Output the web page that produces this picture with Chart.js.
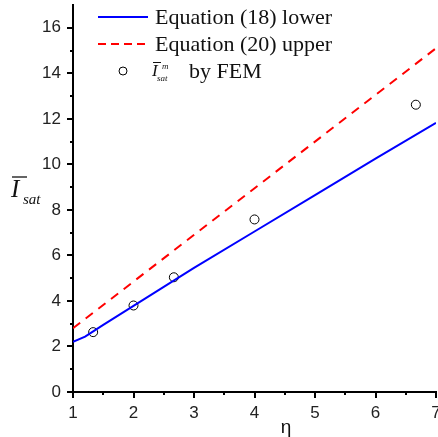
<!DOCTYPE html>
<html><head><meta charset="utf-8">
<script src="https://cdn.jsdelivr.net/npm/chart.js@4/dist/chart.umd.min.js"></script>
<style>html,body{margin:0;padding:0;background:#fff}#wrap{width:438px;height:437px;position:relative}</style>
</head><body><div id="wrap"><canvas id="c" width="438" height="437"></canvas></div>
<script>
// Data
const lowerEta = [1, 1.2, 1.5, 2, 3, 4, 5, 6, 7];
const lowerVal = [2.2, 2.43, 2.95, 3.78, 5.45, 7.05, 8.65, 10.25, 11.82];
const upperEta = [1, 7];
const upperVal = [2.8, 15.1];
const femEta = [1.333, 2, 2.667, 4, 6.667];
const femVal = [2.63, 3.8, 5.04, 7.58, 12.62];
const yTickVals = [0, 2, 4, 6, 8, 10, 12, 14, 16];
const xTickVals = [1, 2, 3, 4, 5, 6, 7];
const legendLabels = ["Equation (18) lower", "Equation (20) upper", "by FEM"];

const toPts = (xs, ys) => xs.map((x, i) => ({x, y: ys[i]}));

const overlay = {
  id: 'overlay',
  afterDraw(chart) {
    const ctx = chart.ctx, xs = chart.scales.x, ys = chart.scales.y;
    ctx.save();
    ctx.strokeStyle = '#000'; ctx.lineWidth = 2;
    // minor ticks
    for (let v = 1; v < 17; v += 2) {
      const p = Math.round(ys.getPixelForValue(v));
      ctx.beginPath(); ctx.moveTo(xs.left - 3, p); ctx.lineTo(xs.left, p); ctx.stroke();
    }
    for (let v = 1.5; v < 7; v += 1) {
      const p = Math.round(xs.getPixelForValue(v));
      ctx.beginPath(); ctx.moveTo(p, ys.bottom); ctx.lineTo(p, ys.bottom + 3); ctx.stroke();
    }
    // legend
    const lx = 98;
    ctx.lineWidth = 2;
    ctx.strokeStyle = '#0000ff';
    ctx.beginPath(); ctx.moveTo(lx, 17); ctx.lineTo(lx + 50, 17); ctx.stroke();
    ctx.strokeStyle = '#ff0000'; ctx.setLineDash([8, 5]);
    ctx.beginPath(); ctx.moveTo(lx, 44); ctx.lineTo(lx + 48, 44); ctx.stroke();
    ctx.setLineDash([]);
    ctx.lineWidth = 1; ctx.strokeStyle = '#000'; ctx.fillStyle = '#fff';
    ctx.beginPath(); ctx.arc(123, 71, 4, 0, Math.PI * 2); ctx.fill(); ctx.stroke();
    ctx.fillStyle = '#111';
    ctx.textBaseline = 'alphabetic'; ctx.textAlign = 'left';
    ctx.font = '22px "Liberation Serif"';
    ctx.fillText(legendLabels[0], 155, 24);
    ctx.fillText(legendLabels[1], 155, 51);
    ctx.fillText(legendLabels[2], 189, 78);
    ctx.font = 'italic 17px "Liberation Serif"';
    ctx.fillText('I', 152, 76);
    ctx.lineWidth = 1; ctx.strokeStyle = '#111';
    ctx.beginPath(); ctx.moveTo(153, 62.5); ctx.lineTo(161, 62.5); ctx.stroke();
    ctx.font = 'italic 9px "Liberation Serif"';
    ctx.fillText('m', 162, 69);
    ctx.fillText('sat', 157, 81);
    // y title
    ctx.font = 'italic 25px "Liberation Serif"';
    ctx.fillText('I', 11, 197);
    ctx.lineWidth = 1.3;
    ctx.beginPath(); ctx.moveTo(12, 177); ctx.lineTo(27, 177); ctx.stroke();
    ctx.font = 'italic 15px "Liberation Serif"';
    ctx.fillText('sat', 23, 204);
    // x title
    ctx.font = '19px "Liberation Sans"';
    ctx.textAlign = 'center';
    ctx.fillText('η', 286, 433);
    ctx.restore();
  }
};

new Chart(document.getElementById('c'), {
  type: 'scatter',
  data: {
    datasets: [
      {data: toPts(lowerEta, lowerVal), showLine: true, borderColor: '#0000ff', borderWidth: 2, pointRadius: 0, fill: false, tension: 0},
      {data: toPts(upperEta, upperVal), showLine: true, borderColor: '#ff0000', borderWidth: 2, borderDash: [9, 7], pointRadius: 0, fill: false},
      {data: toPts(femEta, femVal), showLine: false, pointRadius: 4.5, pointBackgroundColor: '#fff', pointBorderColor: '#000', pointBorderWidth: 1}
    ]
  },
  options: {
    responsive: false, animation: false,
    layout: {autoPadding: false, padding: {left: 0, right: 2, top: 5, bottom: 0}},
    plugins: {legend: {display: false}, tooltip: {enabled: false}},
    scales: {
      x: {
        type: 'linear', min: 1, max: 7,
        afterBuildTicks: s => { s.ticks = xTickVals.map(v => ({value: v})); },
        afterFit: s => { s.height = 45; s.paddingRight = 0; s.paddingLeft = 0; },
        grid: {drawOnChartArea: false, color: '#000', lineWidth: 2, tickLength: 6},
        border: {color: '#000', width: 2},
        ticks: {color: '#222', font: {family: 'Liberation Sans', size: 17}, padding: 5, maxRotation: 0, autoSkip: false}
      },
      y: {
        type: 'linear', min: 0, max: 17,
        afterBuildTicks: s => { s.ticks = yTickVals.map(v => ({value: v})); },
        afterFit: s => { s.width = 73; s.paddingTop = 0; s.paddingBottom = 0; },
        grid: {drawOnChartArea: false, color: '#000', lineWidth: 2, tickLength: 6},
        border: {color: '#000', width: 2},
        ticks: {color: '#222', font: {family: 'Liberation Sans', size: 17}, padding: 6}
      }
    }
  },
  plugins: [overlay]
});
</script></body></html>
